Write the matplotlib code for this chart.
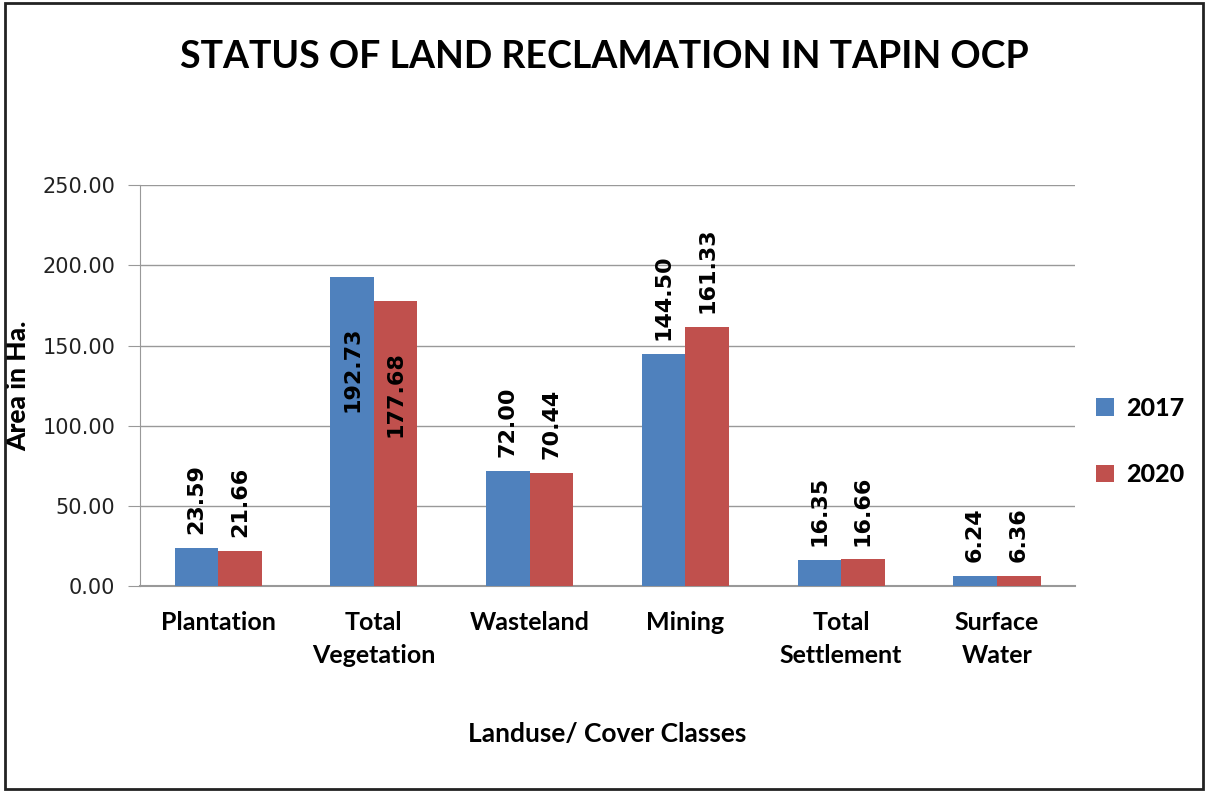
import matplotlib.pyplot as plt
import numpy as np
from matplotlib.patches import Rectangle

categories = ["Plantation", "Total\nVegetation", "Wasteland", "Mining",
              "Total\nSettlement", "Surface\nWater"]
years = ["2017", "2020"]
vals_2017 = [23.59, 192.73, 72.00, 144.50, 16.35, 6.24]
vals_2020 = [21.66, 177.68, 70.44, 161.33, 16.66, 6.36]
yticks = [0, 50, 100, 150, 200, 250]

blue = "#4F81BD"
red = "#C0504D"

fig = plt.figure(figsize=(12.09, 7.91), dpi=100)
ax = fig.add_axes([0.116, 0.259, 0.773, 0.507])

x = np.arange(len(categories))
w = 0.28
b1 = ax.bar(x - w / 2, vals_2017, w, color=blue, label=years[0], zorder=3)
b2 = ax.bar(x + w / 2, vals_2020, w, color=red, label=years[1], zorder=3)

ax.set_xlim(-0.5, len(categories) - 0.5)
ax.set_ylim(0, 250)
ax.set_yticks(yticks)
ax.set_yticklabels([f"{v:.2f}" for v in yticks], fontsize=15, color="#222222")
ax.set_xticks(x)
ax.set_xticklabels(categories, fontsize=18, fontweight="bold", family="Lato",
                   linespacing=1.5)
ax.tick_params(axis="x", length=0, pad=18)
ax.tick_params(axis="y", length=9, color="#999999", pad=9)
ax.grid(axis="y", color="#999999", linewidth=1, zorder=0)
for s in ["top", "right"]:
    ax.spines[s].set_visible(False)
ax.spines["left"].set_color("#999999")
ax.spines["bottom"].set_color("#999999")
ax.spines["bottom"].set_linewidth(1.5)

# data labels
for bars, vals in [(b1, vals_2017), (b2, vals_2020)]:
    for rect, v in zip(bars, vals):
        cx = rect.get_x() + rect.get_width() / 2
        if v > 170:
            ax.annotate(f"{v:.2f}", (cx, v), xytext=(0, -36), textcoords="offset points",
                        rotation=90, ha="center", va="top", fontsize=16,
                        fontweight="bold", zorder=4)
        else:
            ax.annotate(f"{v:.2f}", (cx, v), xytext=(0, 10), textcoords="offset points",
                        rotation=90, ha="center", va="bottom", fontsize=16,
                        fontweight="bold", zorder=4)

ax.set_ylabel("Area in Ha.", fontsize=19, fontweight="black", family="Lato")
ax.yaxis.set_label_coords(-0.118, 0.5)
ax.set_xlabel("Landuse/ Cover Classes", fontsize=19, fontweight="bold", family="Lato",
              labelpad=40)

fig.text(0.5, 0.928, "STATUS OF LAND RECLAMATION IN TAPIN OCP", ha="center",
         va="center", fontsize=27, fontweight="bold", family="Lato")

leg = fig.legend(handles=[b1, b2], labels=years, loc="center left",
                 bbox_to_anchor=(0.888, 0.442), frameon=False,
                 prop={"family": "Lato", "weight": "black", "size": 18},
                 handlelength=0.7, handleheight=0.7, handletextpad=0.5,
                 labelspacing=1.75)

fig.patches.append(Rectangle((0.004, 0.003), 0.991, 0.993, transform=fig.transFigure,
                             fill=False, edgecolor="#222222", linewidth=2))

fig.savefig("out.png", dpi=100)
